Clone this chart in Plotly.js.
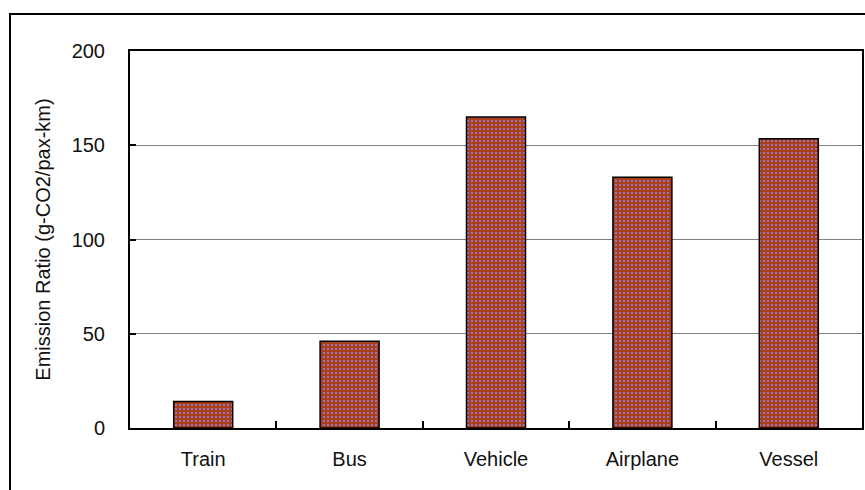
<!DOCTYPE html>
<html>
<head>
<meta charset="utf-8">
<script src="https://cdn.plot.ly/plotly-3.0.1.min.js"></script>
<style>
  html, body { margin: 0; padding: 0; background: #fff; }
  #chart { width: 865px; height: 490px; }
</style>
</head>
<body>
<div id="chart"></div>
<script>
// Passenger transport CO2 intensity by mode
const modes = ["Train", "Bus", "Vehicle", "Airplane", "Vessel"];
const emissionRatio = [14, 46, 165, 133, 153.5];
const yTickValues = [0, 50, 100, 150, 200];
const yTitle = "Emission Ratio (g-CO2/pax-km)";

const W = 865, H = 490;
const margin = { l: 130, r: 3, t: 51, b: 62 };
const plotW = W - margin.l - margin.r;
const plotH = H - margin.t - margin.b;
// convert a pixel position on the page into paper coordinates
const px = x => (x - margin.l) / plotW;
const py = y => (H - margin.b - y) / plotH;

const fontFamily = '"Liberation Sans", Arial, sans-serif';

const trace = {
  type: "bar",
  x: modes,
  y: emissionRatio,
  marker: {
    color: "#ab3f1c",
    line: { color: "#000", width: 1.5 },
    pattern: {
      shape: ".",
      bgcolor: "#ab3f1c",
      fgcolor: "#9288e8",
      size: 4,
      solidity: 0.2
    }
  },
  hoverinfo: "x+y"
};

const layout = {
  width: W,
  height: H,
  margin: margin,
  paper_bgcolor: "#fff",
  plot_bgcolor: "#fff",
  showlegend: false,
  bargap: 0.597,
  font: { family: fontFamily, size: 20, color: "#111" },
  xaxis: {
    type: "category",
    showline: true,
    linecolor: "#000",
    linewidth: 2,
    mirror: true,
    ticks: "inside",
    tickson: "boundaries",
    ticklen: 7,
    tickwidth: 2,
    tickcolor: "#000",
    ticklabelstandoff: 12,
    showgrid: false,
    zeroline: false,
    tickfont: { family: fontFamily, size: 20, color: "#111" }
  },
  yaxis: {
    range: [0, 200],
    tickvals: yTickValues,
    ticktext: yTickValues.map(String),
    showline: true,
    linecolor: "#000",
    linewidth: 2,
    mirror: true,
    ticks: "inside",
    ticklen: 6,
    tickwidth: 2,
    tickcolor: "#000",
    ticklabelstandoff: 19,
    showgrid: true,
    gridcolor: "#808080",
    gridwidth: 1.2,
    zeroline: false,
    tickfont: { family: fontFamily, size: 20, color: "#111" },
    title: {
      text: yTitle,
      standoff: 16,
      font: { family: fontFamily, size: 20, color: "#111" }
    }
  },
  shapes: [
    {
      // outer frame around the whole chart
      type: "rect",
      xref: "paper", yref: "paper",
      x0: px(10), x1: px(872),
      y0: py(497), y1: py(14),
      line: { color: "#000", width: 2 },
      fillcolor: "rgba(0,0,0,0)",
      layer: "above"
    }
  ]
};

Plotly.newPlot("chart", [trace], layout, { displayModeBar: false, staticPlot: true });
</script>
</body>
</html>
